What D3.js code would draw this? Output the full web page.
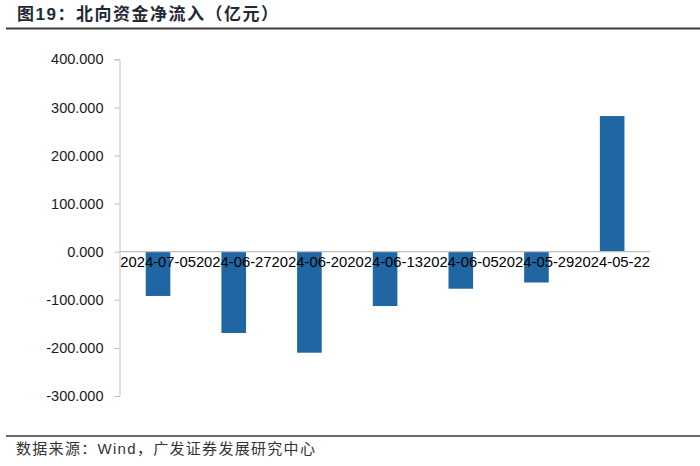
<!DOCTYPE html>
<html>
<head>
<meta charset="utf-8">
<script src="https://cdn.jsdelivr.net/npm/d3@7/dist/d3.min.js"></script>
<style>
  html, body { margin: 0; padding: 0; background: #fff; }
  svg { display: block; }
</style>
</head>
<body>
<svg id="chart" width="700" height="466"></svg>
<script>
// 数据
const dates = ["2024-07-05", "2024-06-27", "2024-06-20", "2024-06-13", "2024-06-05", "2024-05-29", "2024-05-22"];
const flows = [-92, -169, -210, -113, -77, -64, 282];
const yTicks = [400, 300, 200, 100, 0, -100, -200, -300];

const svg = d3.select("#chart");
const W = 700;

// 标题
svg.append("text")
   .attr("x", 17).attr("y", 20)
   .attr("font-family", "'Liberation Sans', 'Noto Sans CJK SC', sans-serif")
   .attr("font-weight", "bold")
   .attr("font-size", 17)
   .attr("letter-spacing", 1.5)
   .attr("fill", "#1f2a36")
   .text("图19：北向资金净流入（亿元）");

svg.append("line")
   .attr("x1", 6).attr("x2", W).attr("y1", 28.5).attr("y2", 28.5)
   .attr("stroke", "#3a3a3a").attr("stroke-width", 2);

// scales
const x = d3.scaleBand().domain(dates).range([120.2, 650]).paddingInner(0.675).paddingOuter(0.3375);
const y = d3.scaleLinear().domain([-300, 400]).range([396, 59.3]);

const g = svg.append("g");

// y axis
const yAxis = d3.axisLeft(y).tickValues(yTicks).tickSize(5).tickFormat(d3.format(".3f"));
const ya = g.append("g").attr("transform", "translate(119.5,0)").call(yAxis);
ya.select(".domain").attr("stroke", "#bfbfbf");
ya.selectAll(".tick line").attr("stroke", "#bfbfbf");
ya.selectAll(".tick text")
  .attr("x", -16)
  .attr("font-family", "'Liberation Sans', Arial, sans-serif")
  .attr("font-size", 14.5)
  .attr("fill", "#1a1a1a")
  .text(d => d < 0 ? "-" + d3.format(".3f")(-d) : d3.format(".3f")(d));

// bars
g.selectAll(".bar").data(dates).join("rect")
  .attr("class", "bar")
  .attr("x", d => x(d))
  .attr("width", x.bandwidth())
  .attr("y", (d, i) => y(Math.max(0, flows[i])))
  .attr("height", (d, i) => Math.abs(y(flows[i]) - y(0)))
  .attr("fill", "#1f66a3");

// zero line
g.append("line")
  .attr("x1", 119.5).attr("x2", 650)
  .attr("y1", y(0)).attr("y2", y(0))
  .attr("stroke", "#bfbfbf").attr("stroke-width", 1.2);

// category labels
g.selectAll(".cat").data(dates).join("text")
  .attr("class", "cat")
  .attr("x", d => x(d) + x.bandwidth() / 2)
  .attr("y", y(0) + 15)
  .attr("text-anchor", "middle")
  .attr("font-family", "'Liberation Sans', Arial, sans-serif")
  .attr("font-size", 14.8)
  .attr("fill", "#000")
  .text(d => d);

// 底部
svg.append("line")
   .attr("x1", 6).attr("x2", W).attr("y1", 436).attr("y2", 436)
   .attr("stroke", "#3a3a3a").attr("stroke-width", 1.5);

svg.append("text")
   .attr("x", 16).attr("y", 454)
   .attr("font-family", "'Liberation Sans', 'Noto Sans CJK SC', sans-serif")
   .attr("font-size", 15)
   .attr("letter-spacing", 1.3)
   .attr("fill", "#333")
   .text("数据来源：Wind，广发证券发展研究中心");
</script>
</body>
</html>
